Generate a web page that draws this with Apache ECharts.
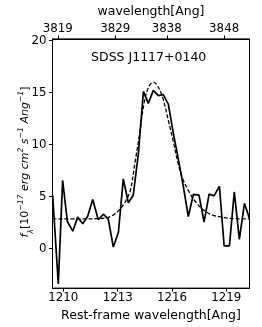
<!DOCTYPE html>
<html>
<head>
<meta charset="utf-8">
<script src="https://cdn.jsdelivr.net/npm/echarts@6/dist/echarts.min.js"></script>
<style>html,body{margin:0;padding:0;background:#fff;}#c{width:262px;height:327px;}</style>
</head>
<body>
<div id="c"></div>
<script>
// Observed spectrum (rest-frame wavelength, flux)
var restWave = [1209.41, 1209.72, 1209.96, 1210.22, 1210.52, 1210.79, 1211.07, 1211.34, 1211.62, 1211.93, 1212.21, 1212.48, 1212.76, 1213.04, 1213.31, 1213.59, 1213.86, 1214.14, 1214.42, 1214.69, 1214.97, 1215.25, 1215.52, 1215.8, 1216.07, 1216.35, 1216.63, 1216.9, 1217.18, 1217.49, 1217.77, 1218.05, 1218.32, 1218.62, 1218.88, 1219.17, 1219.44, 1219.72, 1220.0, 1220.27];
var flux = [5.13, -3.4, 6.55, 2.6, 1.67, 3.02, 2.39, 3.08, 4.72, 2.77, 3.3, 2.83, 0.15, 1.57, 6.7, 4.4, 5.13, 9.07, 15.1, 13.95, 15.2, 14.7, 14.8, 13.86, 11.12, 8.6, 5.92, 3.08, 5.2, 5.13, 2.55, 5.23, 5.07, 5.98, 0.25, 0.25, 5.44, 0.88, 4.35, 2.93];
// Fitted profile (dashed)
var fitWave = [1209.4, 1211.0, 1211.8, 1212.3, 1212.6, 1212.9, 1213.2, 1213.45, 1213.7, 1213.95, 1214.2, 1214.45, 1214.7, 1214.97, 1215.25, 1215.52, 1215.8, 1216.07, 1216.35, 1216.62, 1216.96, 1217.3, 1217.7, 1218.2, 1218.8, 1219.5, 1220.3];
var fitFlux = [2.85, 2.85, 2.87, 2.93, 3.08, 3.4, 3.95, 4.6, 5.6, 8.2, 10.9, 13.9, 15.5, 16.0, 15.5, 14.3, 12.3, 10.3, 8.1, 6.6, 5.4, 4.5, 3.75, 3.25, 3.0, 2.87, 2.85];
// Tick labels
var restTicks = [1210, 1213, 1216, 1219];
var obsTicks = [3819, 3829, 3838, 3848];
var fluxTicks = [0, 5, 10, 15, 20];
var onePlusZ = 3.157;
var xMin = 1209.4, xMax = 1220.28, yMin = -3.8, yMax = 20.15;

var font = 'DejaVu Sans';
var chart = echarts.init(document.getElementById('c'), null, {renderer: 'canvas'});
function pairs(xs, ys) { return xs.map(function (x, i) { return [x, ys[i]]; }); }
function plain(v) { return String(Math.round(v)); }
var axisCommon = {
  axisLine: {show: true, onZero: false, lineStyle: {color: '#000', width: 1}},
  axisTick: {show: true, inside: false, length: 3.5, lineStyle: {color: '#000', width: 1}},
  splitLine: {show: false}
};
chart.setOption({
  animation: false,
  backgroundColor: '#fff',
  grid: {left: 52.5, right: 12.5, top: 36, bottom: 37, show: true, borderColor: '#000', borderWidth: 1, backgroundColor: 'transparent'},
  xAxis: [
    Object.assign({}, axisCommon, {
      type: 'value', position: 'bottom', min: xMin, max: xMax,
      axisTick: Object.assign({}, axisCommon.axisTick, {customValues: restTicks}),
      axisLabel: {customValues: restTicks, formatter: plain, color: '#000', fontFamily: font, fontSize: 11.8, margin: 4},
      name: 'Rest-frame wavelength[Ang]', nameLocation: 'middle', nameGap: 17,
      nameTextStyle: {color: '#000', fontFamily: font, fontSize: 12.5, verticalAlign: 'top'}
    }),
    Object.assign({}, axisCommon, {
      type: 'value', position: 'top', min: xMin * onePlusZ, max: xMax * onePlusZ,
      axisTick: Object.assign({}, axisCommon.axisTick, {customValues: obsTicks}),
      axisLabel: {customValues: obsTicks, formatter: plain, color: '#000', fontFamily: font, fontSize: 11.8, margin: 4},
      name: 'wavelength[Ang]', nameLocation: 'middle', nameGap: 12,
      nameTextStyle: {color: '#000', fontFamily: font, fontSize: 12.5, verticalAlign: 'bottom'}
    })
  ],
  yAxis: [
    Object.assign({}, axisCommon, {
      type: 'value', min: yMin, max: yMax,
      axisTick: Object.assign({}, axisCommon.axisTick, {customValues: fluxTicks}),
      axisLabel: {customValues: fluxTicks, formatter: plain, color: '#000', fontFamily: font, fontSize: 11.8, margin: 6}
    })
  ],
  graphic: [{
    type: 'text', x: 148.7, y: 57.3,
    style: {text: 'SDSS J1117+0140', fontFamily: font, fontSize: 12.5, fill: '#000', align: 'center', verticalAlign: 'middle'}
  }, {
    type: 'text', x: 25, y: 162, rotation: Math.PI / 2,
    style: {
      text: '{i|f}{sub|λ}{n|[10}{sup|−17}{i| erg cm}{sup|2}{i| s}{sup|−1}{i| Ang}{sup|−1}{n|]}',
      align: 'center', verticalAlign: 'middle', fill: '#000', fontFamily: font, fontSize: 11,
      rich: {
        i: {fontFamily: font, fontSize: 11, fontStyle: 'italic', fill: '#000', height: 15, verticalAlign: 'bottom'},
        n: {fontFamily: font, fontSize: 11, fill: '#000', height: 15, verticalAlign: 'bottom'},
        sup: {fontFamily: font, fontSize: 7.7, fontStyle: 'italic', fill: '#000', verticalAlign: 'top', height: 8},
        sub: {fontFamily: font, fontSize: 7.7, fontStyle: 'italic', fill: '#000', verticalAlign: 'bottom', height: 8, padding: [0, 0, -3, 0]}
      }
    }
  }],
  series: [
    {
      type: 'line', xAxisIndex: 0, yAxisIndex: 0, data: pairs(restWave, flux),
      showSymbol: false, symbol: 'none', clip: true,
      lineStyle: {color: '#000', width: 1.7}
    },
    {
      type: 'line', xAxisIndex: 0, yAxisIndex: 0, data: pairs(fitWave, fitFlux),
      showSymbol: false, symbol: 'none', clip: true, smooth: 0.35,
      lineStyle: {color: '#000', width: 1.3, type: [4, 2]}
    }
  ]
});
</script>
</body>
</html>
